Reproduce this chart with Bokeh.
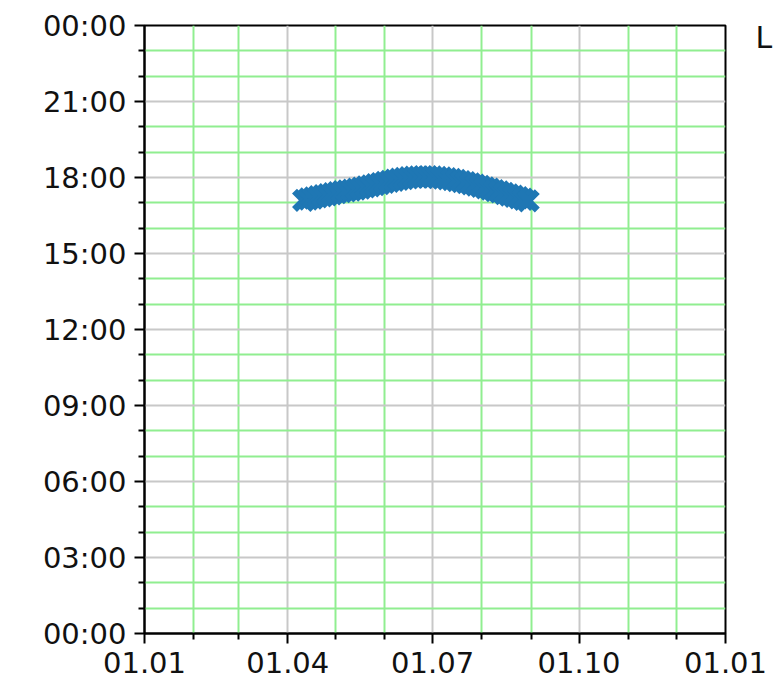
from datetime import datetime
from bokeh.plotting import figure
from bokeh.models import FixedTicker, DatetimeTickFormatter, Range1d, Label
from bokeh.embed import file_html
from bokeh.resources import INLINE

# ---- data ----
dates = ["2023-04-11", "2023-04-14", "2023-04-17", "2023-04-20", "2023-04-23",
         "2023-04-26", "2023-04-29", "2023-05-02", "2023-05-05", "2023-05-08",
         "2023-05-11", "2023-05-14", "2023-05-17", "2023-05-20", "2023-05-23",
         "2023-05-26", "2023-05-29", "2023-06-01", "2023-06-04", "2023-06-07",
         "2023-06-10", "2023-06-13", "2023-06-16", "2023-06-19", "2023-06-22",
         "2023-06-25", "2023-06-28", "2023-07-01", "2023-07-04", "2023-07-07",
         "2023-07-10", "2023-07-13", "2023-07-16", "2023-07-19", "2023-07-22",
         "2023-07-25", "2023-07-28", "2023-07-31", "2023-08-03", "2023-08-06",
         "2023-08-09", "2023-08-12", "2023-08-15", "2023-08-18", "2023-08-21",
         "2023-08-24", "2023-08-27", "2023-08-30"]
hours = [17.10, 17.15, 17.19, 17.24, 17.28,
         17.32, 17.36, 17.40, 17.44, 17.47,
         17.50, 17.54, 17.58, 17.63, 17.67,
         17.72, 17.76, 17.81, 17.85, 17.89,
         17.93, 17.96, 17.99, 18.01, 18.02,
         18.03, 18.03, 18.02, 18.00, 17.98,
         17.95, 17.92, 17.88, 17.84, 17.80,
         17.75, 17.70, 17.65, 17.59, 17.54,
         17.48, 17.43, 17.37, 17.31, 17.26,
         17.20, 17.14, 17.08]

x_major = ["2023-01-01", "2023-04-01", "2023-07-01", "2023-10-01", "2024-01-01"]
x_minor = ["2023-02-01", "2023-03-01", "2023-05-01", "2023-06-01", "2023-08-01",
           "2023-09-01", "2023-11-01", "2023-12-01"]
y_major = [0, 3, 6, 9, 12, 15, 18, 21, 24]
y_labels = ["00:00", "03:00", "06:00", "09:00", "12:00", "15:00", "18:00", "21:00", "00:00"]
legend_text = "L"

def to_ms(s):
    return (datetime.strptime(s, "%Y-%m-%d") - datetime(1970, 1, 1)).total_seconds() * 1000.0

xs = [datetime.strptime(d, "%Y-%m-%d") for d in dates]

p = figure(width=783, height=693, x_axis_type="datetime", output_backend="svg",
           toolbar_location=None,
           x_range=Range1d(datetime(2023, 1, 1), datetime(2024, 1, 1)),
           y_range=Range1d(0, 24),
           min_border_left=144, min_border_right=58, min_border_top=25, min_border_bottom=60)

p.scatter(xs, hours, marker="x", size=26, line_width=7, line_color="#1f77b4")

# ticks
p.xaxis.ticker = FixedTicker(ticks=[to_ms(s) for s in x_major],
                             minor_ticks=[to_ms(s) for s in x_minor])
fmt = "%d.%m"
p.xaxis.formatter = DatetimeTickFormatter(milliseconds=fmt, seconds=fmt, minsec=fmt, minutes=fmt,
                                          hourmin=fmt, hours=fmt, days=fmt, months=fmt, years=fmt)
p.yaxis.ticker = FixedTicker(ticks=y_major,
                             minor_ticks=[h for h in range(25) if h % 3 != 0])
p.yaxis.major_label_overrides = {v: l for v, l in zip(y_major, y_labels)}

for ax in (p.xaxis, p.yaxis):
    ax.axis_line_color = "black"
    ax.axis_line_width = 2
    ax.major_tick_line_width = 2
    ax.minor_tick_line_width = 2
    ax.major_tick_out = 10
    ax.major_tick_in = 0
    ax.minor_tick_out = 6
    ax.minor_tick_in = 0
    ax.major_label_text_font = "DejaVu Sans"
    ax.major_label_text_font_size = "29px"
    ax.major_label_text_color = "#111111"
    ax.major_label_standoff = 8

# grids
for g in (p.xgrid, p.ygrid):
    g.grid_line_color = "#c8c8c8"
    g.grid_line_width = 2
    g.minor_grid_line_color = "#90ee90"
    g.minor_grid_line_width = 2

p.outline_line_color = "black"
p.outline_line_width = 2
p.outline_line_alpha = 1.0
p.background_fill_color = "white"
p.border_fill_color = "white"

lab = Label(x=30, y=596, x_units="screen", y_units="screen", text=legend_text,
            text_font="DejaVu Sans", text_font_size="30px", text_baseline="middle",
            text_align="left", text_color="#111111")
p.add_layout(lab, "right")

open("out.html", "w").write(file_html(p, INLINE))
